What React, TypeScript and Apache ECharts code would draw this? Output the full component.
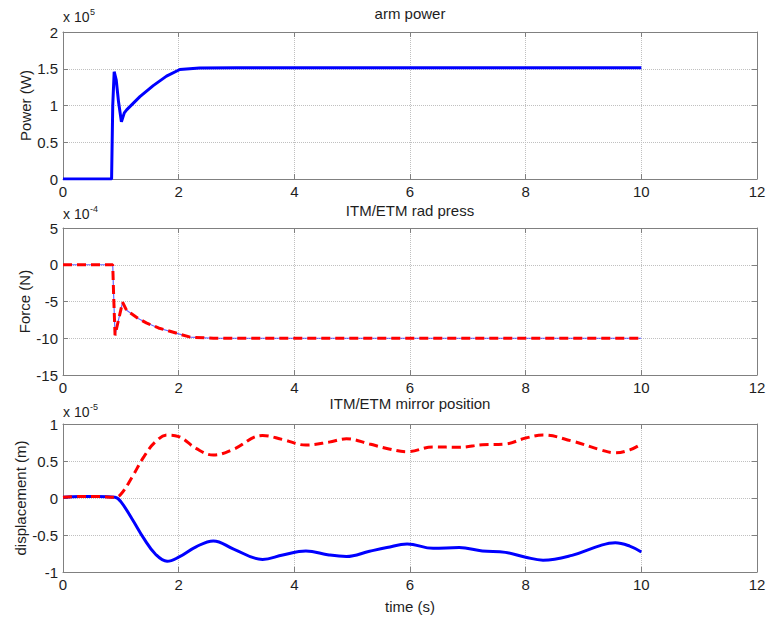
import React, { useEffect, useRef } from "react";
import * as echarts from "echarts";

const xTicks = { min: 0, max: 12, interval: 2 };

const timePower = [0, 0.84, 0.86, 0.885, 0.92, 0.96, 1.01, 1.06, 1.1, 1.33, 1.56, 1.79, 2.02, 2.36, 3.0, 10];
const armPower = [0, 0, 1.0, 1.46, 1.35, 1.05, 0.78, 0.9, 0.94, 1.12, 1.27, 1.4, 1.49, 1.51, 1.515, 1.515];

const timeForce = [0, 0.86, 0.875, 0.9, 0.96, 1.03, 1.1, 1.3, 1.44, 1.65, 2.0, 2.2, 2.6, 10];
const radPress = [0, 0, -4, -9.6, -7.5, -5.1, -6.2, -7.3, -7.9, -8.6, -9.4, -9.85, -10, -10];

const timeDisp = [0, 0.3, 0.6, 0.9, 1.0, 1.2, 1.4, 1.6, 1.8, 2.0, 2.3, 2.6, 2.95, 3.45, 3.8, 4.2, 4.6, 4.9, 5.3, 5.6, 5.95, 6.4, 6.85, 7.25, 7.65, 8.0, 8.3, 8.8, 9.3, 9.55, 9.8, 10.0];
const etmDisp = [0.01, 0.02, 0.02, 0.01, 0.05, 0.29, 0.56, 0.76, 0.85, 0.83, 0.67, 0.58, 0.66, 0.845, 0.79, 0.715, 0.755, 0.8, 0.73, 0.67, 0.625, 0.69, 0.685, 0.72, 0.73, 0.81, 0.85, 0.77, 0.65, 0.61, 0.65, 0.73];
const itmDisp = [0.01, 0.02, 0.02, 0.01, -0.05, -0.29, -0.55, -0.76, -0.855, -0.8, -0.66, -0.58, -0.69, -0.83, -0.77, -0.715, -0.77, -0.79, -0.72, -0.67, -0.62, -0.68, -0.67, -0.715, -0.735, -0.8, -0.84, -0.775, -0.64, -0.605, -0.65, -0.73];

const titles = ["arm power", "ITM/ETM rad press", "ITM/ETM mirror position"];
const yNames = ["Power (W)", "Force (N)", "displacement (m)"];
const yScales = [
  { min: 0, max: 2, interval: 0.5 },
  { min: -15, max: 5, interval: 5 },
  { min: -1, max: 1, interval: 0.5 },
];
const exponents = ["5", "-4", "-5"];
const xName = "time (s)";

const FONT = "'Liberation Sans', Arial, sans-serif";
const FRAME = "#808080";
const GRIDC = "#c0c0c0";
const BLUE = "#0000ff";
const RED = "#ff0000";
const TXT = "#1e1e1e";

const pairs = (t: number[], v: number[]) => t.map((x, i) => [x, v[i]]);

export default function App() {
  const ref = useRef<HTMLDivElement>(null);
  useEffect(() => {
    document.body.style.margin = "0";
    const chart = echarts.init(ref.current!, null, { renderer: "svg" });
    const grids = [
      { left: 63, right: 13, top: 32, height: 147 },
      { left: 63, right: 13, top: 228, height: 147 },
      { left: 63, right: 13, top: 424, height: 148 },
    ];
    const nameGaps = [30, 31, 35];
    const xAxis: any[] = [];
    const yAxis: any[] = [];
    grids.forEach((_, g) => {
      xAxis.push({
        type: "value", gridIndex: g, position: "bottom", ...xTicks,
        name: g === 2 ? xName : "", nameLocation: "middle", nameGap: 27, nameMoveOverlap: false,
        nameTextStyle: { fontFamily: FONT, fontSize: 15, color: TXT },
        axisLine: { show: true, onZero: false, lineStyle: { color: FRAME } },
        axisTick: { show: true, inside: true, length: 5, lineStyle: { color: FRAME } },
        axisLabel: { show: true, fontFamily: FONT, fontSize: 15, color: TXT, margin: 5 },
        splitLine: { show: true, lineStyle: { color: GRIDC, type: "dotted", width: 1 } },
      });
      xAxis.push({
        type: "value", gridIndex: g, position: "top", ...xTicks,
        axisLine: { show: true, onZero: false, lineStyle: { color: FRAME } },
        axisTick: { show: true, inside: true, length: 5, lineStyle: { color: FRAME } },
        axisLabel: { show: false },
        splitLine: { show: false },
      });
      yAxis.push({
        type: "value", gridIndex: g, position: "left", ...yScales[g],
        name: yNames[g], nameLocation: "middle", nameGap: nameGaps[g], nameMoveOverlap: false,
        nameTextStyle: { fontFamily: FONT, fontSize: 15, color: TXT },
        axisLine: { show: true, onZero: false, lineStyle: { color: FRAME } },
        axisTick: { show: true, inside: true, length: 5, lineStyle: { color: FRAME } },
        axisLabel: { show: true, fontFamily: FONT, fontSize: 15, color: TXT, margin: 5 },
        splitLine: { show: true, lineStyle: { color: GRIDC, type: "dotted", width: 1 } },
      });
      yAxis.push({
        type: "value", gridIndex: g, position: "right", ...yScales[g],
        axisLine: { show: true, onZero: false, lineStyle: { color: FRAME } },
        axisTick: { show: true, inside: true, length: 5, lineStyle: { color: FRAME } },
        axisLabel: { show: false },
        splitLine: { show: false },
      });
    });

    const base = { type: "line", showSymbol: false, symbol: "none" };
    const series: any[] = [
      { ...base, name: "arm power", xAxisIndex: 0, yAxisIndex: 0, data: pairs(timePower, armPower),
        lineStyle: { color: BLUE, width: 3 } },
      { ...base, name: "ITM rad press", xAxisIndex: 2, yAxisIndex: 2, data: pairs(timeForce, radPress),
        lineStyle: { color: BLUE, width: 1.2, opacity: 0.6 } },
      { ...base, name: "ETM rad press", xAxisIndex: 2, yAxisIndex: 2, data: pairs(timeForce, radPress),
        lineStyle: { color: RED, width: 3, type: [9, 5] } },
      { ...base, name: "ITM position", xAxisIndex: 4, yAxisIndex: 4, data: pairs(timeDisp, itmDisp), smooth: 0.4,
        lineStyle: { color: BLUE, width: 3 } },
      { ...base, name: "ETM position", xAxisIndex: 4, yAxisIndex: 4, data: pairs(timeDisp, etmDisp), smooth: 0.4,
        lineStyle: { color: RED, width: 3, type: [9, 5] } },
    ];

    const expY = [10, 207, 405];
    const graphic: any[] = [];
    expY.forEach((y, g) => {
      graphic.push({ type: "text", left: 63, top: y, style: { text: "x 10", font: `14px ${FONT}`, fill: TXT } });
      graphic.push({ type: "text", left: 90, top: y - 3, style: { text: exponents[g], font: `9px ${FONT}`, fill: TXT } });
    });

    chart.setOption({
      animation: false,
      backgroundColor: "#fff",
      title: titles.map((t, g) => ({
        text: t, left: 410, textAlign: "center", top: [6, 203, 396][g], padding: 0,
        textStyle: { fontFamily: FONT, fontSize: 15, fontWeight: "normal", color: TXT },
      })),
      grid: grids,
      xAxis, yAxis, series, graphic,
    });
    return () => chart.dispose();
  }, []);
  return <div ref={ref} style={{ width: 770, height: 621 }} />;
}
